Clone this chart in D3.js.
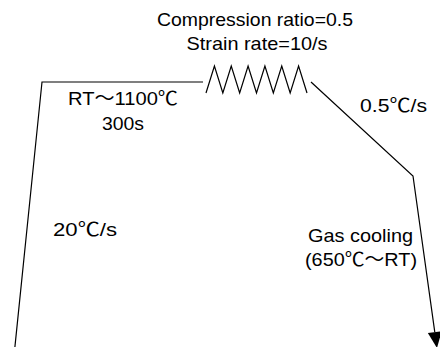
<!DOCTYPE html>
<html>
<head>
<meta charset="utf-8">
<script src="https://cdn.jsdelivr.net/npm/d3@7/dist/d3.min.js"></script>
<style>
  html, body { margin: 0; padding: 0; background: #fff; }
  svg { display: block; }
  text { font-family: "Liberation Sans", "Noto Sans CJK JP", sans-serif; fill: #000; }
</style>
</head>
<body>
<script>
// Thermo-mechanical schedule: temperature (°C) against process time (s, schematic)
const heatTime = [0, 54];          // 20°C/s from RT to 1100°C
const heatTemp = [20, 1100];
const holdTime = [54, 354];        // soak 300 s
const holdTemp = [1100, 1100];
const coolTime = [357, 1257];      // 0.5°C/s down to 650°C
const coolTemp = [1100, 650];
const gasTime = [1257, 1287];      // gas cooling 650°C to RT
const gasTemp = [650, 20];

// compression hits drawn as a zigzag (0 = low, 1 = high)
const zigzag = [0, 1, 0, 1, 0, 1, 0, 1, 0, 1, 0, 1, 0];

// annotation texts
const labels = [
  { text: "Compression ratio=0.5", cx: 255, y: 26, w: 196 },
  { text: "Strain rate=10/s", cx: 257, y: 50, w: 141 },
  { text: "RT\uFF5E1100\u2103", cx: 123, y: 105, w: 110 },
  { text: "300s", cx: 123, y: 130, w: 42 },
  { text: "20\u2103/s", cx: 85, y: 236, w: 64 },
  { text: "0.5\u2103/s", cx: 393.5, y: 112, w: 67 },
  { text: "Gas cooling", cx: 360.5, y: 242, w: 105 },
  { text: "(650\u2103\uFF5ERT)", cx: 361, y: 266, w: 112 }
];

const W = 440, H = 347;
const svg = d3.select("body").append("svg").attr("width", W).attr("height", H);

// piecewise scales: the schedule is not drawn to scale
const x = d3.scaleLinear()
  .domain([0, 54, 354, 357, 1257, 1287])
  .range([14.8, 42, 203, 311, 413, 437]);
const y = d3.scaleLinear()
  .domain([20, 650, 1100])
  .range([348, 176, 82]);

const zx = d3.scaleLinear().domain([0, zigzag.length - 1]).range([206, 307]);
const zy = d3.scaleLinear().domain([0, 1]).range([93, 66]);

const line = d3.line();
const seg = (t, v) => t.map((d, i) => [x(d), y(v[i])]);

const stroke = g => g.attr("fill", "none").attr("stroke", "#000")
  .attr("stroke-width", 1.2).attr("stroke-linejoin", "miter");

// heating + soak
svg.append("path")
  .attr("d", line(seg(heatTime, heatTemp).concat(seg(holdTime, holdTemp).slice(1))))
  .call(stroke);

// deformation zigzag
svg.append("path")
  .attr("d", line(zigzag.map((d, i) => [zx(i), zy(d)])))
  .call(stroke);

// controlled cooling then gas cooling, ending in an arrow
const coolPts = seg(coolTime, coolTemp).concat(seg(gasTime, gasTemp).slice(1));
const tip = coolPts[coolPts.length - 1];
const prev = coolPts[coolPts.length - 2];
const ang = Math.atan2(tip[1] - prev[1], tip[0] - prev[0]);
const headLen = 16, headHalf = 7;
const base = [tip[0] - headLen * Math.cos(ang), tip[1] - headLen * Math.sin(ang)];
const linePts = coolPts.slice(0, -1).concat([base]);

svg.append("path").attr("d", line(linePts)).call(stroke);

const nx = -Math.sin(ang), ny = Math.cos(ang);
svg.append("path")
  .attr("d", line([
    [base[0] + nx * headHalf, base[1] + ny * headHalf],
    tip,
    [base[0] - nx * headHalf, base[1] - ny * headHalf]
  ]) + "Z")
  .attr("fill", "#000");

// annotations
svg.selectAll("text.lbl").data(labels).enter().append("text")
  .attr("class", "lbl")
  .attr("x", d => d.cx)
  .attr("y", d => d.y)
  .attr("text-anchor", "middle")
  .attr("font-size", 19)
  .attr("textLength", d => d.w)
  .attr("lengthAdjust", "spacingAndGlyphs")
  .text(d => d.text);
</script>
</body>
</html>
